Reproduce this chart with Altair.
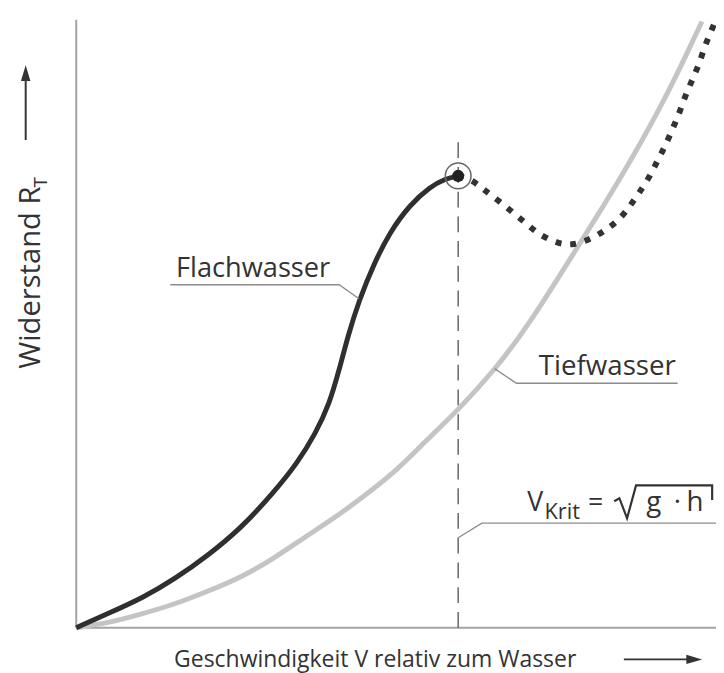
import altair as alt
import pandas as pd

# ---- curve values (arbitrary units, 0..100 on both axes) ----
flach_x = [0, 5.1, 10.4, 15.5, 20.6, 25.8, 30.9, 34.5, 37.4, 39.6, 41.1, 42.5, 44.2, 46.5, 49.1, 52.2, 55.3, 57.6, 59.7]
flach_y = [0, 2.4, 4.9, 8.1, 11.9, 16.4, 22.3, 27.0, 31.9, 36.9, 42.4, 48.1, 53.8, 59.8, 65.2, 69.6, 72.5, 73.8, 74.3]

ueber_x = [59.7, 61.8, 63.5, 65.8, 68.0, 70.3, 72.3, 75.0, 77.4, 80.4, 82.8, 85.0, 86.6, 88.1, 89.6,
           90.9, 92.1, 93.2, 94.3, 95.2, 96.3, 97.4, 98.3, 99.4, 100]
ueber_y = [74.3, 73.7, 72.2, 70.4, 68.5, 66.5, 64.7, 63.3, 62.8, 63.9, 65.4, 67.2, 69.4, 71.7, 74.1,
           76.9, 79.3, 82.0, 84.7, 87.5, 90.1, 92.8, 95.8, 98.5, 100]

tief_x = [0, 5.1, 10.4, 15.5, 20.6, 25.8, 30.9, 36.0, 41.3, 46.4, 49.9, 55.0, 59.7, 65.4, 70.5,
          77.7, 82.4, 87.0, 91.7, 95.5, 97.8]
tief_y = [0, 0.8, 2.3, 3.9, 6.0, 8.3, 11.4, 15.1, 18.7, 22.8, 25.7, 31.1, 35.8, 42.4, 49.4,
          61.5, 69.3, 77.4, 86.3, 94.5, 99.7]

v_krit = 59.7
v_krit_top = 80.7
peak_y = 74.3

# ---- annotation texts ----
txt = ["Flachwasser", "Tiefwasser", "V", "Krit", "=", "g", "·", "h",
       "Geschwindigkeit V relativ zum Wasser", "Widerstand R", "T"]
txt_x = [15.6, 72.3, 70.5, 73.2, 80.0, 89.1, 93.4, 95.4, 15.3, -5.6, -4.6]
txt_y = [57.6, 41.6, 19.2, 17.9, 19.2, 19.2, 19.2, 19.2, -6.4, 42.6, 72.4]
txt_size = [27.5, 28, 27, 22, 27, 28, 28, 28, 23.2, 29.5, 19]
txt_angle = [0, 0, 0, 0, 0, 0, 0, 0, 0, 270, 270]

# leader lines / radical sign (polylines)
lead_g = ["f", "f", "f", "t", "t", "t", "v", "v", "v", "r", "r", "r", "r", "r", "r"]
lead_x = [14.7, 41.1, 44.2, 65.4, 68.8, 94.0, 59.7, 63.4, 100, 84.1, 84.9, 86.1, 87.5, 99.4, 99.4]
lead_y = [56.4, 56.4, 54.1, 42.6, 40.2, 40.2, 14.8, 17.2, 17.2, 20.8, 21.3, 18.0, 23.4, 23.4, 21.0]

# arrows
arrow_g = ["y", "y", "x", "x"]
arrow_x = [-7.9, -7.9, 85.6, 95.6]
arrow_y = [80.2, 89.9, -5.2, -5.2]

df_flach = pd.DataFrame({"x": flach_x, "y": flach_y, "i": range(len(flach_x))})
df_ueber = pd.DataFrame({"x": ueber_x, "y": ueber_y, "i": range(len(ueber_x))})
df_tief = pd.DataFrame({"x": tief_x, "y": tief_y, "i": range(len(tief_x))})
df_txt = pd.DataFrame({"x": txt_x, "y": txt_y, "t": txt, "s": txt_size, "a": txt_angle})
df_lead = pd.DataFrame({"x": lead_x, "y": lead_y, "g": lead_g, "i": range(len(lead_x))})
lead_main = df_lead[df_lead.g != "r"]
lead_rad = df_lead[df_lead.g == "r"]
df_arrow = pd.DataFrame({"x": arrow_x, "y": arrow_y, "g": arrow_g, "i": range(len(arrow_x))})
df_heads = pd.DataFrame({"x": [-7.9, 96.6], "y": [91.2, -5.2], "g": ["y", "x"]})
df_axes = pd.DataFrame({"x": [0, 0], "y": [0, 0], "x2": [0, 100], "y2": [100, 0]})
df_vk = pd.DataFrame({"x": [v_krit], "y": [0], "y2": [v_krit_top]})
df_peak = pd.DataFrame({"x": [v_krit], "y": [peak_y]})

xs = alt.Scale(domain=[0, 100], nice=False, zero=False)
ys = alt.Scale(domain=[0, 100], nice=False, zero=False)
X = alt.X("x:Q", scale=xs, axis=None)
Y = alt.Y("y:Q", scale=ys, axis=None)

axes = alt.Chart(df_axes).mark_rule(color="#a3a3a3", strokeWidth=2).encode(
    x=X, y=Y, x2="x2:Q", y2="y2:Q")
tief = alt.Chart(df_tief).mark_line(color="#c4c4c4", strokeWidth=5, interpolate="basis").encode(
    x=X, y=Y, order="i:Q")
vk = alt.Chart(df_vk).mark_rule(color="#666666", strokeWidth=1.5, strokeDash=[16, 9]).encode(
    x=X, y=Y, y2="y2:Q")
flach = alt.Chart(df_flach).mark_line(color="#2f2f2f", strokeWidth=5, interpolate="basis").encode(
    x=X, y=Y, order="i:Q")
ueber = alt.Chart(df_ueber).mark_line(color="#333333", strokeWidth=6, strokeDash=[6, 9],
                                      interpolate="basis").encode(x=X, y=Y, order="i:Q")
ring = alt.Chart(df_peak).mark_point(shape="circle", size=676, filled=False, color="#666666",
                                     strokeWidth=1.5, opacity=1).encode(x=X, y=Y)
dot = alt.Chart(df_peak).mark_point(shape="circle", size=150, filled=True, color="#222222",
                                    opacity=1).encode(x=X, y=Y)
leads = alt.Chart(lead_main).mark_line(color="#8c8c8c", strokeWidth=1.4).encode(
    x=X, y=Y, detail="g:N", order="i:Q")
rad = alt.Chart(lead_rad).mark_line(color="#333333", strokeWidth=2.2).encode(
    x=X, y=Y, order="i:Q")
arrows = alt.Chart(df_arrow).mark_line(color="#333333", strokeWidth=2).encode(
    x=X, y=Y, detail="g:N", order="i:Q")
head_up = alt.Chart(df_heads[df_heads.g == "y"]).mark_point(
    shape="M0,-1L0.6,1L-0.6,1Z", size=256, filled=True, color="#333333", opacity=1).encode(x=X, y=Y)
head_right = alt.Chart(df_heads[df_heads.g == "x"]).mark_point(
    shape="M1,0L-1,0.6L-1,-0.6Z", size=256, filled=True, color="#333333", opacity=1).encode(x=X, y=Y)
texts = alt.Chart(df_txt).mark_text(align="left", baseline="alphabetic", font="Open Sans",
                                    color="#333333").encode(
    x=X, y=Y, text="t:N", size=alt.Size("s:Q", scale=None), angle=alt.Angle("a:Q", scale=None))

chart = alt.layer(axes, tief, vk, flach, ueber, ring, dot, leads, rad, arrows, head_up,
                  head_right, texts).properties(
    width=647, height=615,
    autosize=alt.AutoSizeParams(type="none"),
    padding={"left": 69, "top": 8, "right": 0, "bottom": 42},
    background="white",
).configure_view(stroke=None)

chart.save("out.html", embed_options={"renderer": "svg", "actions": False})
